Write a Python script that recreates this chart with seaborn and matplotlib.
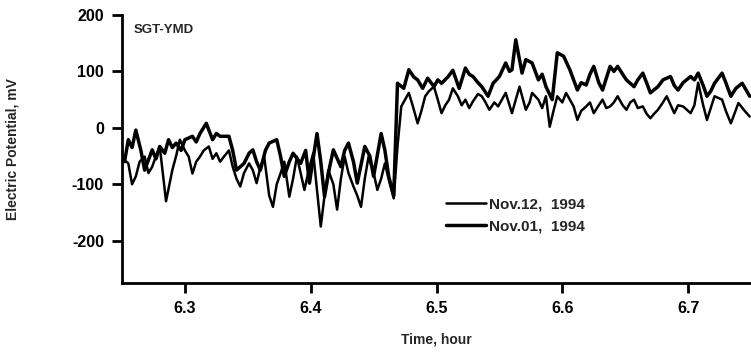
import matplotlib
matplotlib.use("Agg")
import matplotlib.pyplot as plt
import seaborn as sns
import pandas as pd

# ---- data ----
t_nov01 = [6.248, 6.252, 6.255, 6.258, 6.261, 6.265, 6.268, 6.274, 6.277, 6.280, 6.284,
           6.287, 6.290, 6.293, 6.297, 6.300, 6.306, 6.309, 6.312, 6.317, 6.322, 6.325,
           6.328, 6.335, 6.338, 6.341, 6.347, 6.351, 6.354, 6.357, 6.360, 6.364, 6.367,
           6.373, 6.376, 6.379, 6.383, 6.386, 6.392, 6.396, 6.399, 6.405, 6.408, 6.411,
           6.415, 6.418, 6.424, 6.427, 6.430, 6.434, 6.437, 6.443, 6.447, 6.450, 6.456,
           6.459, 6.462, 6.466,
           6.469, 6.474, 6.478, 6.482, 6.485, 6.489, 6.493, 6.498, 6.501, 6.504, 6.509,
           6.513, 6.518, 6.523, 6.526, 6.529, 6.533, 6.536, 6.541, 6.545, 6.550, 6.555,
           6.558, 6.560, 6.563, 6.566, 6.568, 6.571, 6.576, 6.581, 6.584, 6.587, 6.592,
           6.596, 6.601, 6.606, 6.609, 6.612, 6.615, 6.619, 6.622, 6.625, 6.629, 6.632,
           6.638, 6.641, 6.644, 6.648, 6.651, 6.657, 6.660, 6.664, 6.667, 6.670, 6.676,
           6.680, 6.686, 6.689, 6.692, 6.696, 6.702, 6.705, 6.708, 6.712, 6.715, 6.718,
           6.721, 6.727, 6.730, 6.734, 6.738, 6.743, 6.749]
v_nov01 = [-45, -60, -21, -35, -4, -40, -75, -39, -55, -33, -45,
           -21, -35, -27, -40, -21, -15, -25, -10, 8, -21, -10,
           -15, -15, -40, -75, -63, -45, -39, -60, -75, -40, -27,
           -21, -50, -86, -60, -45, -63, -40, -98, -10, -60, -122,
           -70, -39, -69, -40, -27, -60, -98, -33, -50, -86, -10,
           -40, -86, -120,
           79, 70, 103, 90, 85, 70, 88, 73, 85, 79, 90,
           102, 70, 106, 95, 91, 80, 73, 56, 79, 91, 115,
           100, 103, 156, 120, 97, 121, 115, 85, 95, 73, 50,
           133, 127, 103, 85, 67, 80, 76, 95, 109, 80, 67,
           109, 100, 109, 95, 85, 73, 85, 97, 80, 62, 73,
           85, 91, 75, 67, 80, 91, 85, 97, 75, 56, 65,
           79, 97, 80, 56, 70, 79, 56]

t_nov12 = [6.248, 6.251, 6.255, 6.258, 6.261, 6.264, 6.268, 6.271, 6.274, 6.277, 6.280,
           6.285, 6.290, 6.293, 6.296, 6.300, 6.303, 6.306, 6.309, 6.312, 6.315, 6.319,
           6.322, 6.325, 6.328, 6.331, 6.335, 6.338, 6.341, 6.344, 6.347, 6.351, 6.354,
           6.357, 6.360, 6.363, 6.367, 6.370, 6.373, 6.376, 6.379, 6.383, 6.386, 6.389,
           6.392, 6.395, 6.399, 6.402, 6.405, 6.408, 6.411, 6.414, 6.418, 6.421, 6.424,
           6.427, 6.430, 6.434, 6.437, 6.440, 6.443, 6.446, 6.450, 6.453, 6.456, 6.459,
           6.463, 6.466, 6.469, 6.472,
           6.475, 6.478, 6.481, 6.485, 6.488, 6.491, 6.494, 6.498, 6.501, 6.504, 6.507,
           6.510, 6.513, 6.517, 6.520, 6.523, 6.526, 6.529, 6.533, 6.536, 6.539, 6.542,
           6.546, 6.549, 6.552, 6.555, 6.560, 6.563, 6.566, 6.571, 6.574, 6.576, 6.581,
           6.584, 6.587, 6.590, 6.593, 6.596, 6.600, 6.603, 6.609, 6.612, 6.615, 6.619,
           6.622, 6.625, 6.629, 6.632, 6.635, 6.638, 6.641, 6.644, 6.648, 6.651, 6.654,
           6.657, 6.660, 6.664, 6.667, 6.670, 6.673, 6.676, 6.680, 6.683, 6.689, 6.692,
           6.696, 6.702, 6.705, 6.708, 6.712, 6.715, 6.718, 6.721, 6.727, 6.730, 6.734,
           6.740, 6.745, 6.749]
v_nov12 = [-39, -55, -63, -100, -86, -60, -51, -80, -69, -50, -33,
           -130, -75, -50, -21, -40, -51, -81, -60, -51, -40, -33,
           -55, -45, -60, -51, -40, -69, -90, -104, -80, -63, -75,
           -98, -70, -51, -120, -140, -100, -81, -60, -122, -90, -51,
           -80, -110, -70, -45, -110, -175, -120, -75, -100, -145, -90,
           -51, -80, -104, -120, -140, -90, -51, -80, -110, -90, -63,
           -100, -125, -33, 38,
           50, 62, 40, 8, 30, 56, 65, 73, 50, 26, 40,
           50, 70, 56, 40, 50, 35, 47, 60, 56, 45, 32,
           45, 38, 50, 62, 26, 50, 73, 32, 45, 62, 50,
           35, 56, 2, 30, 56, 45, 62, 38, 14, 30, 38,
           45, 26, 40, 50, 35, 38, 45, 56, 40, 32, 45,
           50, 35, 38, 25, 17, 25, 32, 45, 56, 26, 40,
           38, 26, 40, 80, 40, 14, 35, 56, 50, 30, 8,
           44, 30, 20]

labels = ["Nov.12,  1994", "Nov.01,  1994"]
x_ticks = [6.3, 6.4, 6.5, 6.6, 6.7]
y_ticks = [-200, -100, 0, 100, 200]

# ---- plotting ----
sns.set_theme(style="ticks")
plt.rcParams["font.family"] = ["Liberation Sans", "DejaVu Sans"]
plt.rcParams["font.weight"] = "bold"
plt.rcParams["axes.unicode_minus"] = False

fig = plt.figure(figsize=(7.51, 3.54), dpi=100)
ax = fig.add_axes([122 / 751, 1 - 283 / 354, 1 - 122 / 751, (283 - 15) / 354])

df12 = pd.DataFrame({"t": t_nov12, "v": v_nov12})
df01 = pd.DataFrame({"t": t_nov01, "v": v_nov01})
sns.lineplot(data=df12, x="t", y="v", ax=ax, color="black", lw=1.8,
             estimator=None, label=labels[0])
sns.lineplot(data=df01, x="t", y="v", ax=ax, color="black", lw=2.5,
             estimator=None, label=labels[1])

ax.set_xlim(6.25, 6.75)
ax.set_ylim(-275, 200)
ax.set_xticks(x_ticks)
ax.set_xticklabels([f"{v:.1f}" for v in x_ticks])
ax.set_yticks(y_ticks)
ax.set_yticklabels([str(v) for v in y_ticks])

for s in ["top", "right"]:
    ax.spines[s].set_visible(False)
for s in ["left", "bottom"]:
    ax.spines[s].set_linewidth(2)
    ax.spines[s].set_color("black")
ax.tick_params(axis="both", direction="out", length=7, width=2, colors="black",
               labelsize=11.5, pad=6)
for lab in ax.get_xticklabels() + ax.get_yticklabels():
    lab.set_fontweight("bold")

ax.set_xlabel("Time, hour", fontsize=10, fontweight="bold", labelpad=12)
ax.set_ylabel("Electric Potential, mV", fontsize=10, fontweight="bold", labelpad=38)

ax.text(0.019, 0.944, "SGT-YMD", transform=ax.transAxes, fontsize=9.5,
        fontweight="bold", ha="left", va="center")

leg = ax.legend(loc="upper left", bbox_to_anchor=(0.515, 0.32), frameon=False,
                fontsize=11, handlelength=2.6, handletextpad=0.2,
                labelspacing=0.55, borderpad=0, borderaxespad=0)
for txt in leg.get_texts():
    txt.set_fontweight("bold")

fig.savefig("out.png", dpi=100)
